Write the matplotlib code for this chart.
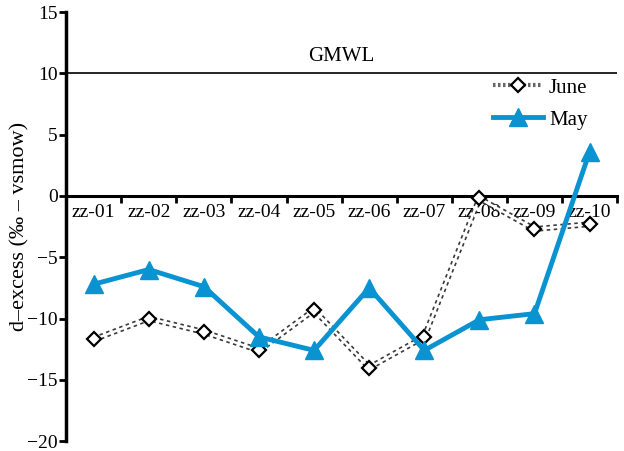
import matplotlib
matplotlib.use('Agg')
import matplotlib.pyplot as plt
import numpy as np

plt.rcParams['font.family'] = ['Liberation Serif', 'DejaVu Serif']

# d-excess per sampling site
sites = ['zz-01', 'zz-02', 'zz-03', 'zz-04', 'zz-05',
         'zz-06', 'zz-07', 'zz-08', 'zz-09', 'zz-10']
june = [-11.7, -10.0, -11.1, -12.6, -9.3, -14.0, -11.5, -0.2, -2.7, -2.3]
may = [-7.2, -6.0, -7.4, -11.5, -12.6, -7.5, -12.6, -10.1, -9.6, 3.6]
gmwl = 10

fig = plt.figure(figsize=(6.24, 4.51), dpi=100)
ax = fig.add_axes([0.106, 0.022, 0.883, 0.951])

x = np.arange(len(sites))

# June: double dotted line with open diamonds
ax.plot(x, june, color='#3a3a3a', lw=4.2, ls=(0, (0.6, 0.6)), zorder=3)
ax.plot(x, june, color='white', lw=1.8, zorder=3.1)
ax.plot(x, june, ls='none', marker='D', ms=7, mfc='white', mec='black',
        mew=1.6, zorder=3.2)
june_handle, = ax.plot([], [], color='#666666', lw=3, ls=(0, (0.6, 0.6)),
                       marker='D', ms=7, mfc='white', mec='black', mew=1.6)

may_line, = ax.plot(x, may, color='#0a93d1', lw=3.5, marker='^', ms=13,
                    zorder=4)

ax.axhline(gmwl, color='black', lw=1.2, zorder=2)
ax.text(4.5, 11.0, 'GMWL', ha='center', va='baseline', fontsize=15)

ax.set_xlim(-0.5, len(sites) - 0.5)
ax.set_ylim(-20, 15)
ax.set_yticks([-20, -15, -10, -5, 0, 5, 10, 15])
ax.set_yticklabels(['\u221220', '\u221215', '\u221210', '\u22125',
                    '0', '5', '10', '15'])

# site labels sit between the tick marks on the zero line
ax.set_xticks(np.arange(-0.5, len(sites), 1.0))
ax.set_xticklabels([])
ax.set_xticks(x, minor=True)
ax.set_xticklabels(sites, minor=True)
ax.tick_params(axis='x', which='major', direction='out', length=5, width=2)
ax.tick_params(axis='x', which='minor', length=0, pad=6, labelsize=14)
ax.tick_params(axis='y', direction='out', length=5, width=2, pad=1,
               labelsize=14)

ax.spines['bottom'].set_position(('data', 0))
ax.spines['bottom'].set_linewidth(2.2)
ax.spines['left'].set_linewidth(2.5)
ax.spines['top'].set_visible(False)
ax.spines['right'].set_visible(False)

ax.set_ylabel('d\u2013excess (\u2030 \u2013 vsmow)', fontsize=16)
ax.yaxis.set_label_coords(-0.066, 0.5)

ax.legend([june_handle, may_line], ['June', 'May'], loc='upper left',
          bbox_to_anchor=(0.74, 0.89), frameon=False, fontsize=15,
          handlelength=2.4, labelspacing=0.6, handletextpad=0.3)

fig.savefig('out.png', dpi=100)
